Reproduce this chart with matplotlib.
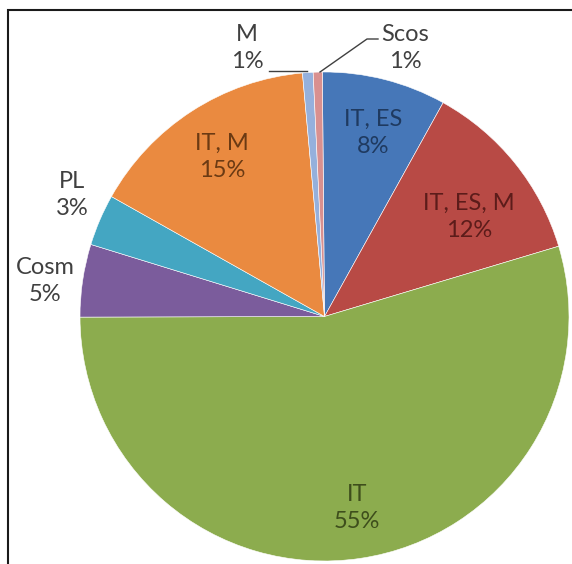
import matplotlib.pyplot as plt
from matplotlib.patches import Rectangle

plt.rcParams['font.family'] = ['Lato', 'DejaVu Sans']

# Данные диаграммы (по часовой стрелке от 12 часов)
categories = ['IT, ES', 'IT, ES, M', 'IT', 'Cosm', 'PL', 'IT, M', 'M', 'Scos']
shares = [8.2, 12.3, 54.6, 4.8, 3.4, 15.4, 0.7, 0.6]

colors = ['#4677b8', '#b84a45', '#8cac4e', '#7b5c9c', '#44a6c2', '#ea8a40',
          '#95b0dc', '#d9908f']
text_colors = ['#1f3a60', '#5c1c1a', '#3e4e1c', '#404040', '#404040',
               '#6b3a13', '#404040', '#404040']
# положения подписей в пикселях картинки (x, y сверху)
label_pos = [(373, 133), (469, 217), (357, 508), (45, 281), (72, 195),
             (222, 157), (247, 48), (405, 48)]

W, H = 572, 564
fig = plt.figure(figsize=(W / 100, H / 100), dpi=100)
ax = fig.add_axes([0, 0, 1, 1])

ax.pie(shares, colors=colors, startangle=90.5, counterclock=False,
       center=(324.5, H - 316.5), radius=244.5, frame=True,
       wedgeprops=dict(edgecolor='white', linewidth=0.4))
ax.set_xlim(0, W)
ax.set_ylim(0, H)
ax.set_aspect('equal')
ax.axis('off')

total = sum(shares)
for name, val, (px, py), tc in zip(categories, shares, label_pos, text_colors):
    ax.text(px, H - py, '%s\n%.0f%%' % (name, val / total * 100),
            ha='center', va='center', fontsize=17, color=tc,
            linespacing=1.4)

# выноски для маленьких секторов
ax.plot([269, 307], [H - 71, H - 71], color='#404040', lw=1)
ax.plot([320, 367, 378], [H - 72, H - 39, H - 39], color='#404040', lw=1)

# рамка области диаграммы
ax.add_patch(Rectangle((8, -20), 700, H - 10 + 20, fill=False,
                       edgecolor='#1a1a1a', lw=1.5, clip_on=False))

plt.savefig('out.png', dpi=100)
